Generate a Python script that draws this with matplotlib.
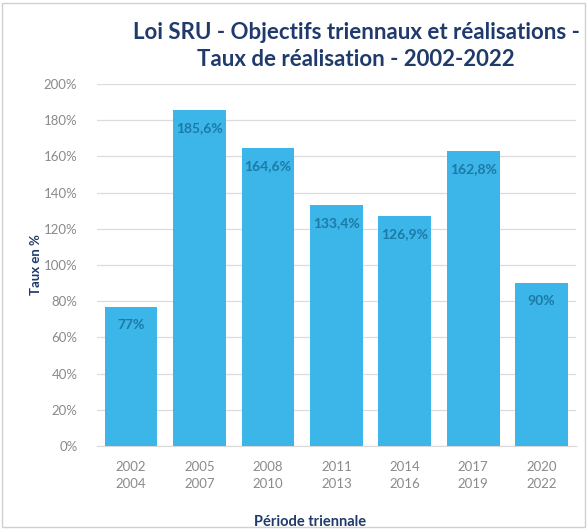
import matplotlib.pyplot as plt
from matplotlib.patches import Rectangle

plt.rcParams['font.family'] = ['Lato', 'DejaVu Sans']

# Données : taux de réalisation par période triennale
periodes = ['2002\n2004', '2005\n2007', '2008\n2010', '2011\n2013',
            '2014\n2016', '2017\n2019', '2020\n2022']
taux = [77, 185.6, 164.6, 133.4, 126.9, 162.8, 90]
etiquettes = ['77%', '185,6%', '164,6%', '133,4%', '126,9%', '162,8%', '90%']

bleu_barre = '#3cb5e8'
bleu_texte = '#1b7aa6'
marine = '#1f3a6b'
gris = '#8a8a8a'

fig = plt.figure(figsize=(5.87, 5.29), dpi=100)
ax = fig.add_axes([0.165, 0.157, 0.816, 0.684])

x = range(len(taux))
ax.bar(x, taux, width=0.77, color=bleu_barre, zorder=3)

for xi, val, txt in zip(x, taux, etiquettes):
    ax.text(xi, val - 10, txt, ha='center', va='center', color=bleu_texte,
            fontsize=10, fontweight='bold', zorder=4)

ax.set_xlim(-0.5, len(taux) - 0.5)
ax.set_ylim(0, 200)
ax.set_yticks(range(0, 201, 20))
ax.set_yticklabels([f'{v}%' for v in range(0, 201, 20)])
ax.set_xticks(list(x))
ax.set_xticklabels(periodes, linespacing=1.5)
ax.tick_params(axis='both', length=0, colors=gris, labelsize=9.5)
ax.tick_params(axis='x', pad=11)
ax.tick_params(axis='y', pad=14)
ax.yaxis.grid(True, color='#dcdcdc', linewidth=0.9, zorder=0)
for s in ['top', 'right', 'left']:
    ax.spines[s].set_visible(False)
ax.spines['bottom'].set_color('#d9d9d9')

ax.set_ylabel('Taux en %', color=marine, fontweight='bold', fontsize=9.5)
ax.yaxis.set_label_coords(-0.115, 0.5)
ax.set_xlabel('Période triennale', color=marine, fontweight='bold', fontsize=10.5)
ax.xaxis.set_label_coords(0.445, -0.19)

fig.text(0.607, 0.913, 'Loi SRU - Objectifs triennaux et réalisations -\nTaux de réalisation - 2002-2022',
         ha='center', va='center', color=marine, fontsize=16, fontweight='bold',
         linespacing=1.3)

# Bordure légère autour du graphique
fig.patches.append(Rectangle((0.004, 0.004), 0.992, 0.99, transform=fig.transFigure,
                             fill=False, edgecolor='#d0d0d0', linewidth=1))

fig.savefig('out.png', dpi=100)
